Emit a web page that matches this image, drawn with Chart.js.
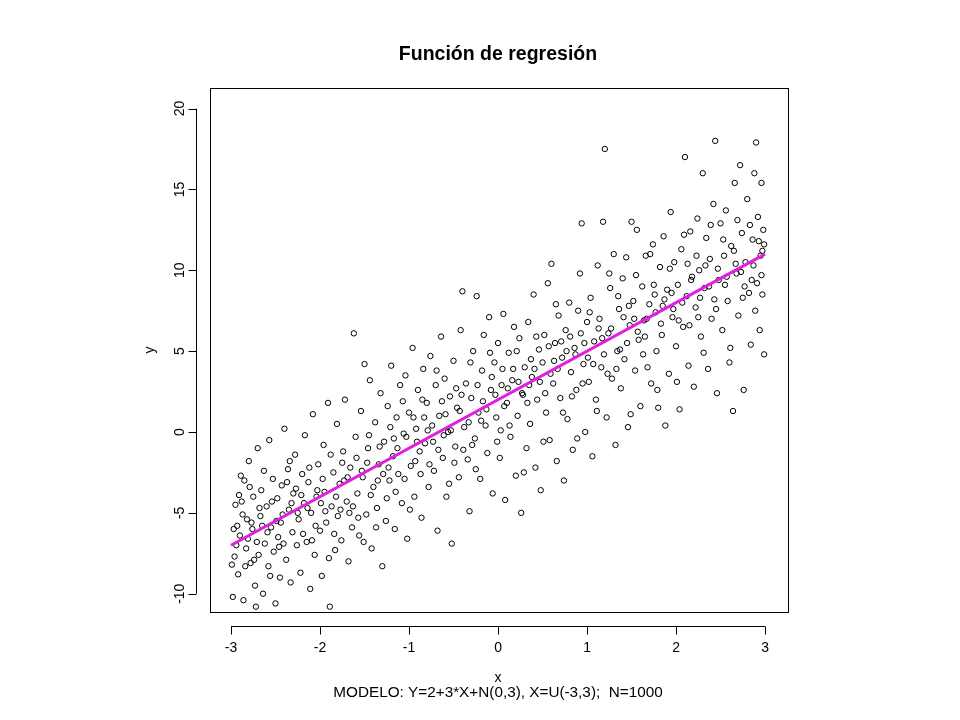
<!DOCTYPE html>
<html><head><meta charset="utf-8">
<script src="https://cdn.jsdelivr.net/npm/chart.js@4"></script>
<style>html,body{margin:0;background:#fff}#w{width:960px;height:720px}</style>
</head><body><div id="w"><canvas id="c"></canvas></div>
<script>
const xTicks=[-3,-2,-1,0,1,2,3];
const yTicks=[-10,-5,0,5,10,15,20];
const lineX=[-3,3];
const lineY=[-7,11];
const scatterPoints=[[-2.98,-10.2],[-2.96,-7.7],[-2.95,-4.5],[-2.93,-5.8],[-2.92,-8.8],[-2.9,-6.4],[-2.88,-4.3],[-2.86,-10.4],[-2.85,-3.0],[-2.83,-7.2],[-2.82,-5.4],[-2.8,-1.8],[-2.78,-8.1],[-2.76,-6.0],[-2.75,-4.0],[-2.73,-9.5],[-2.72,-10.8],[-2.7,-1.0],[-2.69,-7.6],[-2.67,-5.2],[-2.66,-3.6],[-2.64,-10.0],[-2.62,-6.9],[-2.6,-4.6],[-2.58,-8.3],[-2.57,-0.5],[-2.55,-5.9],[-2.53,-2.9],[-2.52,-7.4],[-2.5,-10.6],[-2.48,-4.1],[-2.47,-6.5],[-2.45,-9.0],[-2.43,-3.3],[-2.42,-5.1],[-2.4,0.2],[-2.38,-7.9],[-2.36,-2.3],[-2.35,-4.8],[-2.33,-9.3],[-2.31,-6.2],[-2.3,-3.8],[-2.28,-1.4],[-2.26,-7.0],[-2.24,-5.4],[-2.22,-8.7],[-2.2,-2.6],[-2.18,-4.4],[-2.17,-0.2],[-2.15,-6.8],[-2.13,-3.1],[-2.11,-9.7],[-2.1,-5.0],[-2.08,1.1],[-2.06,-7.6],[-2.04,-4.0],[-2.02,-2.0],[-2.0,-6.1],[-1.98,-8.9],[-1.96,-0.8],[-1.95,-3.7],[-1.93,-5.6],[-1.91,1.8],[-1.89,-10.8],[-1.87,-4.6],[-1.85,-2.5],[-1.83,-7.3],[-1.81,0.5],[-1.8,-5.2],[-1.78,-3.2],[-1.76,-6.7],[-1.74,-1.2],[-1.72,2.0],[-1.7,-4.3],[-1.68,-8.0],[-1.66,-2.2],[-1.64,-5.9],[-1.62,6.1],[-1.6,-0.3],[-1.58,-3.8],[-1.56,-6.4],[-1.54,1.3],[-1.52,-2.8],[-1.5,4.2],[-1.48,-5.1],[-1.46,-1.0],[-1.44,3.2],[-1.42,-7.2],[-1.4,-3.4],[-1.38,0.6],[-1.36,-4.7],[-1.34,-2.0],[-1.32,2.4],[-1.3,-8.3],[-1.28,-0.6],[-1.26,-5.5],[-1.24,1.6],[-1.22,-3.0],[-1.2,4.1],[-1.18,-1.5],[-1.16,-6.0],[-1.14,0.9],[-1.12,-2.6],[-1.1,2.9],[-1.08,-4.4],[-1.06,-0.1],[-1.04,3.5],[-1.02,-6.6],[-1.0,1.2],[-0.98,-2.1],[-0.96,5.2],[-0.94,-4.0],[-0.92,0.2],[-0.9,2.6],[-0.88,-1.2],[-0.86,-5.3],[-0.84,3.9],[-0.82,-0.7],[-0.8,1.8],[-0.78,-3.4],[-0.76,4.7],[-0.74,0.4],[-0.72,-2.4],[-0.7,2.9],[-0.68,-6.1],[-0.66,1.0],[-0.64,5.9],[-0.62,-1.6],[-0.6,3.3],[-0.58,-4.0],[-0.56,0.0],[-0.54,2.2],[-0.52,-6.9],[-0.5,4.4],[-0.48,-0.9],[-0.46,1.5],[-0.44,-2.8],[-0.42,6.3],[-0.4,8.7],[-0.38,0.3],[-0.36,3.0],[-0.34,-1.7],[-0.32,-4.9],[-0.3,2.1],[-0.28,5.0],[-0.26,-0.4],[-0.24,8.4],[-0.22,1.2],[-0.2,-2.9],[-0.18,3.8],[-0.16,6.0],[-0.14,0.4],[-0.12,-1.3],[-0.1,7.1],[-0.08,2.6],[-0.06,-3.8],[-0.04,4.3],[-0.02,0.9],[0.0,5.5],[0.02,-1.6],[0.04,2.9],[0.06,7.3],[0.08,-4.2],[0.1,1.8],[0.12,4.9],[0.14,-0.3],[0.16,3.2],[0.18,6.5],[0.2,-2.7],[0.22,1.0],[0.24,5.8],[0.26,-5.0],[0.28,2.3],[0.3,4.0],[0.32,-1.0],[0.34,6.8],[0.36,0.5],[0.38,3.4],[0.4,8.5],[0.42,-2.2],[0.44,2.0],[0.46,5.1],[0.48,-3.6],[0.5,4.3],[0.52,6.0],[0.54,1.2],[0.56,9.2],[0.58,-0.5],[0.6,10.4],[0.62,3.0],[0.64,5.5],[0.66,-1.8],[0.68,7.2],[0.7,2.1],[0.72,4.6],[0.74,-3.0],[0.76,6.3],[0.78,0.8],[0.8,8.0],[0.82,3.7],[0.84,-1.1],[0.86,5.2],[0.88,2.6],[0.9,7.5],[0.92,9.8],[0.94,12.9],[0.96,4.2],[0.98,0.0],[1.0,6.8],[1.02,3.1],[1.04,8.3],[1.06,-1.5],[1.08,5.6],[1.1,2.0],[1.12,10.3],[1.14,7.0],[1.16,4.0],[1.18,13.0],[1.2,17.5],[1.22,0.9],[1.24,6.1],[1.26,8.9],[1.28,3.3],[1.3,11.0],[1.32,-0.8],[1.34,5.0],[1.36,7.6],[1.38,2.7],[1.4,9.5],[1.42,4.5],[1.44,10.8],[1.46,0.3],[1.48,6.6],[1.5,13.0],[1.52,8.1],[1.54,3.8],[1.56,12.5],[1.58,5.7],[1.6,1.6],[1.62,9.0],[1.64,6.9],[1.66,10.9],[1.68,4.0],[1.7,7.9],[1.72,3.0],[1.74,11.6],[1.76,8.5],[1.78,5.0],[1.8,1.5],[1.82,10.2],[1.84,6.0],[1.86,12.1],[1.88,0.4],[1.9,8.8],[1.92,3.6],[1.94,13.6],[1.96,7.1],[1.98,10.5],[2.0,5.3],[2.02,9.1],[2.04,1.4],[2.06,11.3],[2.08,6.5],[2.1,17.0],[2.12,8.4],[2.14,4.1],[2.16,12.4],[2.18,9.6],[2.2,2.8],[2.22,7.7],[2.24,13.2],[2.26,10.0],[2.28,5.9],[2.3,16.0],[2.32,8.9],[2.34,12.0],[2.36,3.9],[2.38,10.7],[2.4,7.0],[2.42,14.1],[2.44,18.0],[2.46,2.4],[2.48,9.4],[2.5,12.9],[2.52,6.3],[2.54,10.9],[2.56,13.7],[2.58,8.1],[2.6,4.3],[2.62,11.5],[2.64,1.3],[2.66,15.4],[2.68,9.8],[2.7,7.2],[2.72,16.5],[2.74,12.3],[2.76,2.6],[2.78,10.5],[2.8,14.4],[2.82,8.6],[2.84,5.4],[2.86,11.9],[2.88,16.0],[2.9,17.9],[2.91,9.2],[2.92,13.3],[2.94,6.3],[2.95,10.9],[2.96,15.4],[2.97,8.5],[2.98,12.5],[2.99,4.8],[2.99,11.6],
[-2.97,-6.0],[-2.91,-3.9],[-2.84,-8.3],[-2.77,-5.6],[-2.68,-4.7],[-2.59,-6.2],[-2.46,-7.1],[-2.37,-3.1],[-2.25,-5.0],[-2.14,-4.7],[-2.03,-3.6],[-1.94,-4.9],[-1.84,-6.3],[-1.73,-3.0],[-1.63,-4.6],[-1.53,-2.4],[-1.43,-3.9],[-1.33,-0.9],[-1.23,-2.2],[-1.13,-1.0],[-1.03,-0.3],[-0.93,-1.8],[-0.83,0.9],[-0.73,-0.6],[-0.63,1.9],[-0.53,0.1],[-0.43,1.3],[-0.33,0.6],[-0.23,2.9],[-0.13,1.4],[-0.03,2.3],[0.07,1.6],[0.17,3.9],[0.27,2.4],[0.37,4.5],[0.47,3.1],[0.57,5.3],[0.67,3.9],[0.77,5.0],[0.87,4.8],[0.97,5.5],[1.07,4.2],[1.17,5.8],[1.27,6.4],[1.37,5.1],[1.47,7.8],[1.57,6.2],[1.67,7.0],[1.77,7.4],[1.87,8.2],[1.97,7.6],[2.07,8.0],[2.17,9.4],[2.27,8.3],[2.37,9.0],[2.47,10.1],[2.57,9.6],[2.67,10.4],[2.77,9.0],[2.87,10.3],[2.93,11.8],
[-2.94,-7.0],[-2.87,-5.1],[-2.79,-3.4],[-2.71,-6.8],[-2.63,-2.4],[-2.56,-8.9],[-2.49,-5.5],[-2.41,-6.9],[-2.34,-1.8],[-2.27,-3.5],[-2.19,-6.3],[-2.12,-2.2],[-2.05,-5.8],[-1.97,-2.9],[-1.9,-7.8],[-1.82,-4.0],[-1.75,-1.9],[-1.67,-5.0],[-1.59,-1.6],[-1.51,-6.8],[-1.45,-0.2],[-1.37,-5.9],[-1.29,-2.6],[-1.21,0.3],[-1.15,-3.7],[-1.07,1.9],[-0.99,-4.8],[-0.91,-0.6],[-0.85,2.0],[-0.77,-2.0],[-0.69,3.8],[-0.61,-0.2],[-0.55,-3.2],[-0.47,2.7],[-0.39,-1.1],[-0.31,4.3],[-0.25,-2.3],[-0.17,1.9],[-0.09,4.9],[-0.01,-0.6],[0.05,3.9],[0.13,0.4],[0.21,5.0],[0.29,-2.5],[0.35,2.9],[0.43,5.9],[0.51,-0.6],[0.59,3.6],[0.65,7.9],[0.73,1.2],[0.81,5.9],[0.89,-0.4],[0.95,3.0],[1.03,7.4],[1.11,1.3],[1.19,4.8],[1.25,9.8],[1.33,3.9],[1.41,7.1],[1.49,1.1],[1.55,9.7],[1.63,4.8],[1.71,11.0],[1.79,2.6],[1.85,7.8],[1.93,10.1],[2.01,3.1],[2.09,12.2],[2.15,6.6],[2.23,10.9],[2.31,4.9],[2.39,12.8],[2.45,7.6],[2.53,11.9],[2.61,5.2],[2.69,13.1],[2.75,8.3],[2.83,12.8],[2.89,7.5],[2.96,9.7],
[-2.99,-8.2],[-2.89,-2.7],[-2.81,-6.6],[-2.74,-7.9],[-2.65,-5.8],[-2.54,-4.3],[-2.44,-5.6],[-2.32,-4.4],[-2.21,-3.9],[-2.09,-6.7],[-1.99,-4.4],[-1.88,-1.4],[-1.77,-4.8],[-1.69,-2.8],[-1.57,-5.3],[-1.47,-1.9],[-1.35,-3.0],[-1.25,-4.1],[-1.17,-0.4],[-1.05,-2.9],[-0.95,0.9],[-0.87,-2.6],[-0.79,0.1],[-0.67,-1.1],[-0.59,1.1],[-0.49,-1.9],[-0.41,2.3],[-0.29,-0.8],[-0.19,0.7],[-0.07,3.4],[0.03,0.1],[0.11,2.7],[0.23,3.1],[0.33,1.8],[0.41,3.9],[0.53,2.4],[0.63,4.4],[0.71,5.6],[0.83,2.2],[0.93,6.1],[1.01,4.6],[1.13,6.4],[1.23,3.6],[1.35,8.4],[1.45,5.5],[1.53,7.0],[1.65,5.9],[1.75,9.1],[1.83,6.7],[1.95,8.6],[2.03,6.9],[2.13,10.4],[2.25,7.1],[2.33,10.3],[2.43,8.2],[2.55,9.1],[2.65,11.2],[2.73,9.9],[2.85,9.4],[2.97,11.2]];

const F='"Liberation Sans", Arial, sans-serif';
const deco={id:'deco',afterDraw(ch){
  const c=ch.ctx,a=ch.chartArea,sx=ch.scales.x,sy=ch.scales.y;
  c.save();c.strokeStyle='#000';c.fillStyle='#000';c.lineWidth=1;
  c.strokeRect(a.left+0.5,a.top+0.5,a.right-a.left,a.bottom-a.top);
  const ay=626.5;c.beginPath();c.moveTo(sx.getPixelForValue(-3),ay);c.lineTo(sx.getPixelForValue(3),ay);
  xTicks.forEach(v=>{const p=Math.round(sx.getPixelForValue(v))+0.5;c.moveTo(p,ay);c.lineTo(p,ay+8);});
  const ax=196.5;c.moveTo(ax,sy.getPixelForValue(-10));c.lineTo(ax,sy.getPixelForValue(20));
  yTicks.forEach(v=>{const p=Math.round(sy.getPixelForValue(v))+0.5;c.moveTo(ax,p);c.lineTo(ax-8,p);});
  c.stroke();
  c.font='14px '+F;c.textAlign='center';c.textBaseline='middle';
  xTicks.forEach(v=>c.fillText(String(v),sx.getPixelForValue(v),648));
  yTicks.forEach(v=>{c.save();c.translate(180,sy.getPixelForValue(v));c.rotate(-Math.PI/2);c.fillText(String(v),0,0);c.restore();});
  c.fillText('x',498,678);
  c.font='15.3px '+F;
  c.fillText('MODELO: Y=2+3*X+N(0,3), X=U(-3,3);  N=1000',498,693);
  c.font='14px '+F;
  c.save();c.translate(150,350);c.rotate(-Math.PI/2);c.fillText('y',0,0);c.restore();
  c.font='bold 19.5px '+F;c.fillText('Función de regresión',498,55);
  c.restore();
}};
new Chart(document.getElementById('c'),{
  type:'scatter',
  data:{datasets:[
    {data:lineX.map((x,i)=>({x,y:lineY[i]})),type:'line',borderColor:'#e020e0',borderWidth:3,pointRadius:0,fill:false,order:0},
    {data:scatterPoints.map(p=>({x:p[0],y:p[1]})),pointRadius:2.7,borderWidth:1,borderColor:'#000',backgroundColor:'rgba(0,0,0,0)',order:1}
  ]},
  options:{responsive:true,maintainAspectRatio:false,animation:false,
    layout:{padding:{left:210,right:172,top:88,bottom:108}},
    plugins:{legend:{display:false},tooltip:{enabled:false}},
    scales:{x:{type:'linear',min:-3.236,max:3.258,display:false},y:{type:'linear',min:-11.13,max:21.27,display:false}}},
  plugins:[deco]
});
</script></body></html>
